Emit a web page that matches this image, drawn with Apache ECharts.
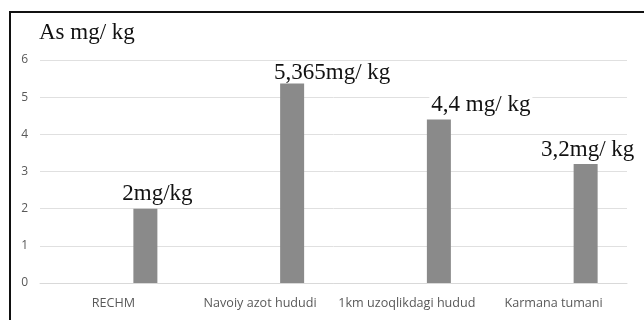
<!DOCTYPE html>
<html>
<head>
<meta charset="utf-8">
<script src="https://cdn.jsdelivr.net/npm/echarts@6/dist/echarts.min.js"></script>
<style>
  html, body { margin: 0; padding: 0; background: #fff; }
  #wrap { position: relative; width: 644px; height: 320px; overflow: hidden; }
  #frame { position: absolute; left: 9px; top: 11px; width: 640px; height: 320px;
           border-top: 2px solid #111; border-left: 2px solid #111; box-sizing: border-box; }
  #chart { position: absolute; left: 0; top: 0; width: 644px; height: 320px; }
</style>
</head>
<body>
<div id="wrap">
  <div id="frame"></div>
  <div id="chart"></div>
</div>
<script>
// Arsenic content by area (mg/kg)
const categories = ['RECHM', 'Navoiy azot hududi', '1km uzoqlikdagi hudud', 'Karmana tumani'];
const values = [2, 5.365, 4.4, 3.2];
const valueLabels = ['2mg/kg', '5,365mg/ kg', '4,4 mg/ kg', '3,2mg/ kg'];
const yTicks = [0, 1, 2, 3, 4, 5, 6];

// label nudges relative to each bar top
const labelOffsets = [[12, -6], [40, -2], [42, -6], [2, -5]];

const chart = echarts.init(document.getElementById('chart'), null, { renderer: 'canvas' });

const serif = '"Liberation Serif", "DejaVu Serif", serif';
const sans = '"Open Sans", "Noto Sans", sans-serif';

chart.setOption({
  animation: false,
  backgroundColor: 'transparent',
  title: {
    text: 'As mg/ kg',
    left: 34,
    top: 16,
    textStyle: { fontFamily: serif, fontSize: 23, fontWeight: 'normal', color: '#111' }
  },
  grid: { left: 40, right: 17, top: 60, bottom: 37, containLabel: false },
  xAxis: {
    type: 'category',
    data: categories,
    axisLine: { show: true, lineStyle: { color: '#d9d9d9', width: 1 } },
    axisTick: { show: false },
    axisLabel: { color: '#595959', fontFamily: sans, fontSize: 12.6, margin: 14, interval: 0 }
  },
  yAxis: {
    type: 'value',
    min: yTicks[0],
    max: yTicks[yTicks.length - 1],
    interval: 1,
    axisLine: { show: false },
    axisTick: { show: false },
    axisLabel: { color: '#595959', fontFamily: sans, fontSize: 12, margin: 12 },
    splitLine: { lineStyle: { color: '#e0e0e0', width: 1 } }
  },
  series: [
    {
      // empty companion series, keeps the bars right of each category centre
      type: 'bar',
      name: 'bo‘sh',
      barWidth: 24,
      barGap: '166.7%',
      data: categories.map(() => null)
    },
    {
      type: 'bar',
      name: 'As',
      barWidth: 24,
      barGap: '166.7%',
      itemStyle: { color: '#8a8a8a' },
      data: values.map((v, i) => ({
        value: v,
        label: {
          show: true,
          position: 'top',
          distance: 0,
          offset: labelOffsets[i],
          formatter: valueLabels[i],
          fontFamily: serif,
          fontSize: 23,
          lineHeight: 18,
          color: '#111',
          backgroundColor: '#fff',
          padding: [0, 2]
        }
      }))
    }
  ]
});
</script>
</body>
</html>
